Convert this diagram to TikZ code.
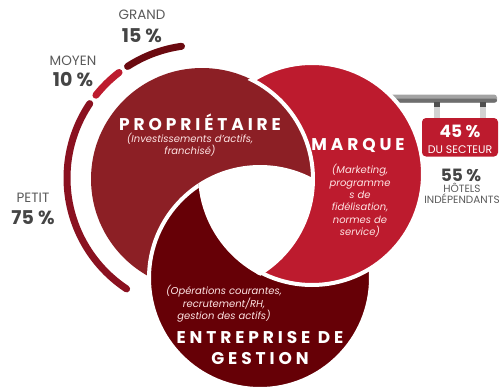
\documentclass[tikz,border=0pt]{standalone}
\usepackage{fontspec}
\setmainfont{Poppins}
\newfontfamily\spaced{Poppins}[LetterSpace=23]
\usetikzlibrary{calc}
\definecolor{prop}{HTML}{8C1F25}
\definecolor{marq}{HTML}{BD1B2E}
\definecolor{entr}{HTML}{660006}
\definecolor{lblgray}{HTML}{5A5A5A}
\definecolor{numgray}{HTML}{454545}
\definecolor{grandc}{HTML}{6B0A10}
\definecolor{petitc}{HTML}{8A1120}
\definecolor{barlight}{HTML}{A3A3A3}
\definecolor{bardark}{HTML}{6E6E6E}
\definecolor{postlight}{HTML}{D2D2D2}
\definecolor{postdark}{HTML}{4F4F4F}
\tikzset{
  disc/.style={line width=4pt, draw=white},
  ringarc/.style={line width=7pt, line cap=round},
  lbl/.style={text=lblgray, font=\fontsize{13.5}{14}\selectfont, inner sep=0pt},
  num/.style={text=numgray, font=\bfseries\fontsize{19}{20}\selectfont, inner sep=0pt},
  title/.style={text=white, font=\spaced\bfseries\fontsize{17}{20}\selectfont, inner sep=0pt, align=center},
  note/.style={text=white!90!red, font=\itshape\fontsize{10}{12.4}\selectfont, inner sep=0pt, align=center},
}
\begin{document}
\begin{tikzpicture}[x=1pt,y=-1pt]
\useasboundingbox (0,0) rectangle (499,388);
\coordinate (P) at (202,179);
\coordinate (M) at (312,174);
\coordinate (E) at (260,278);
\coordinate (C) at (200,178);
\def\R{111}
% sign bar (behind the circles)
\fill[barlight, rounded corners=3pt] (370,94.5) rectangle (497,102.5);
\fill[bardark, rounded corners=2pt] (370,98.5) rectangle (497,102.5);
% hangers
\foreach \x in {437,483}{
  \fill[postlight] (\x-3,102) rectangle (\x+3,119);
  \fill[postdark] (\x-3,102) rectangle (\x+3,106.5);
}
% outer arcs (angles negative: y axis points down)
\draw[ringarc, grandc] ($(C)+(-98:133)$) arc[start angle=-98, end angle=-123, radius=133];
\draw[ringarc, marq] ($(C)+(-127.5:133)$) arc[start angle=-127.5, end angle=-141.5, radius=133];
\draw[ringarc, petitc] ($(C)+(-146:133)$) arc[start angle=-146, end angle=-236.5, radius=133];
% discs: P under E, E under M, M under P
\fill[prop] (P) circle[radius=\R];
\filldraw[fill=entr, disc] (E) circle[radius=\R];
\filldraw[fill=marq, disc] (M) circle[radius=\R];
\begin{scope}
  \clip (M) circle[radius=\R+3];
  \filldraw[fill=prop, disc] (P) circle[radius=\R];
\end{scope}
% central hole
\begin{scope}
  \clip (P) circle[radius=\R];
  \clip (M) circle[radius=\R+3];
  \filldraw[white, line width=4pt] (E) circle[radius=\R];
\end{scope}
% red sign box
\fill[marq, rounded corners=4pt] (422,118) rectangle (498,156.5);
% outer labels
\node[lbl] (grand) at (142,15) {GRAND};
\node[num] (grandn) at (142,36) {15 \%};
\node[lbl] (moyen) at (73,61) {MOYEN};
\node[num] (moyenn) at (73,80) {10 \%};
\node[lbl] (petit) at (33,198) {PETIT};
\node[num] (petitn) at (33,218) {75 \%};
% circle titles
\node[title] (ptitle) at (200,122) {PROPRIÉTAIRE};
\node[note] (pnote) at (190,144.5) {(Investissements d'actifs,\\franchisé)};
\node[title] (mtitle) at (358,145) {MARQUE};
\node[note] (mnote) at (360,201) {(Marketing,\\programme\\s de\\fidélisation,\\normes de\\service)};
\node[note] (enote) at (224,304) {(Opérations courantes,\\recrutement/RH,\\gestion des actifs)};
\node[title, font=\spaced\bfseries\fontsize{17}{21}\selectfont] (etitle) at (260,348.5) {ENTREPRISE DE\\GESTION};
% sign texts
\node[text=white, font=\bfseries\fontsize{17}{18}\selectfont, inner sep=0pt] (s45) at (460,131.5) {45 \%};
\node[text=white, font=\fontsize{11}{11}\selectfont, inner sep=0pt] (ssect) at (460,149.5) {DU SECTEUR};
\node[text=numgray, font=\bfseries\fontsize{17}{18}\selectfont, inner sep=0pt] (s55) at (461,175) {55 \%};
\node[text=lblgray, font=\fontsize{10.5}{11}\selectfont, inner sep=0pt, align=center] (shot) at (462,193.5) {HÔTELS\\INDÉPENDANTS};
\end{tikzpicture}
\end{document}
